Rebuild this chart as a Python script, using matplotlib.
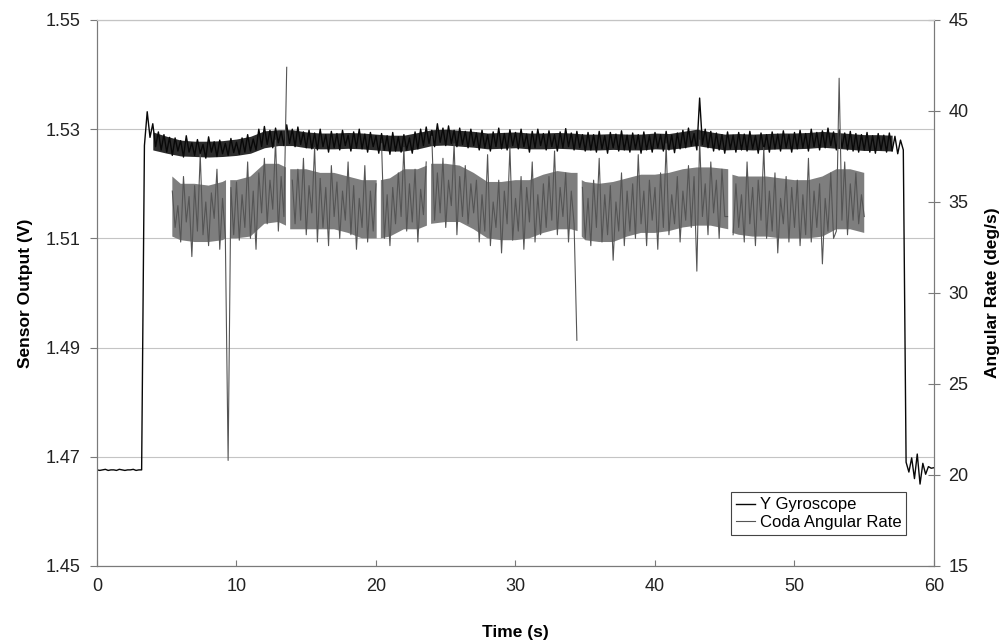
import numpy as np
import matplotlib
matplotlib.use("Agg")
import matplotlib.pyplot as plt

# Y gyroscope output (V), sampled every 0.2 s from t = 0 to 60 s
gyro_v = [
    # 0.0 - 3.2 s, before the turntable starts
    1.4676, 1.4675, 1.4676, 1.4677, 1.4675, 1.4676, 1.4676, 1.4675, 1.4677,
    1.4676, 1.4675, 1.4676, 1.4676, 1.4677, 1.4675, 1.4676, 1.4676,
    # 3.4 - 5.2
    1.5270, 1.5332, 1.5285, 1.5310, 1.5268, 1.5295, 1.5262, 1.5290, 1.5258, 1.5285,
    # 5.4 - 10.0
    1.5252, 1.5284, 1.5260, 1.5279, 1.5249, 1.5288, 1.5258, 1.5275, 1.5252, 1.5281,
    1.5256, 1.5272, 1.5247, 1.5286, 1.5258, 1.5277, 1.5250, 1.5280, 1.5255, 1.5274,
    1.5252, 1.5283, 1.5257, 1.5276,
    # 10.2 - 11.4
    1.5254, 1.5284, 1.5258, 1.5290, 1.5260, 1.5282, 1.5262,
    # 11.6 - 15.0
    1.5300, 1.5268, 1.5305, 1.5272, 1.5298, 1.5266, 1.5302, 1.5275, 1.5296, 1.5270,
    1.5308, 1.5274, 1.5300, 1.5268, 1.5304, 1.5272, 1.5295, 1.5266,
    # 15.2 - 20.0
    1.5298, 1.5264, 1.5293, 1.5262, 1.5300, 1.5268, 1.5290, 1.5258, 1.5296, 1.5266,
    1.5292, 1.5262, 1.5298, 1.5270, 1.5289, 1.5260, 1.5295, 1.5266, 1.5300, 1.5264,
    1.5291, 1.5258, 1.5294, 1.5268, 1.5288,
    # 20.2 - 23.0
    1.5256, 1.5292, 1.5262, 1.5288, 1.5254, 1.5294, 1.5260, 1.5286, 1.5258, 1.5290,
    1.5262, 1.5284, 1.5256, 1.5295, 1.5264,
    # 23.2 - 27.0
    1.5300, 1.5270, 1.5304, 1.5274, 1.5298, 1.5268, 1.5310, 1.5276, 1.5302, 1.5270,
    1.5306, 1.5274, 1.5298, 1.5268, 1.5302, 1.5272, 1.5296, 1.5266, 1.5300, 1.5270,
    # 27.2 - 35.0
    1.5293, 1.5262, 1.5298, 1.5266, 1.5290, 1.5260, 1.5295, 1.5268, 1.5302, 1.5264,
    1.5292, 1.5262, 1.5299, 1.5270, 1.5294, 1.5264, 1.5300, 1.5268, 1.5291, 1.5258,
    1.5296, 1.5266, 1.5300, 1.5270, 1.5292, 1.5262, 1.5297, 1.5268, 1.5290, 1.5260,
    1.5295, 1.5266, 1.5301, 1.5268, 1.5293, 1.5262, 1.5296, 1.5266, 1.5290, 1.5260,
    # 35.2 - 42.0
    1.5294, 1.5262, 1.5290, 1.5258, 1.5296, 1.5264, 1.5288, 1.5256, 1.5294, 1.5266,
    1.5291, 1.5260, 1.5297, 1.5262, 1.5289, 1.5258, 1.5293, 1.5264, 1.5290, 1.5256,
    1.5295, 1.5262, 1.5288, 1.5258, 1.5294, 1.5266, 1.5290, 1.5260, 1.5296, 1.5262,
    1.5289, 1.5257, 1.5293, 1.5264, 1.5298,
    # 42.2 - 44.0
    1.5266, 1.5302, 1.5270, 1.5292, 1.5262, 1.5357, 1.5272, 1.5300, 1.5266, 1.5296,
    # 44.2 - 50.0
    1.5260, 1.5293, 1.5262, 1.5290, 1.5256, 1.5295, 1.5264, 1.5289, 1.5258, 1.5294,
    1.5262, 1.5291, 1.5260, 1.5296, 1.5264, 1.5288, 1.5256, 1.5293, 1.5262, 1.5290,
    1.5258, 1.5295, 1.5264, 1.5291, 1.5260, 1.5297, 1.5266, 1.5290, 1.5258, 1.5294,
    # 50.2 - 54.0
    1.5264, 1.5298, 1.5266, 1.5292, 1.5260, 1.5300, 1.5268, 1.5294, 1.5262, 1.5297,
    1.5266, 1.5302, 1.5270, 1.5295, 1.5262, 1.5299, 1.5266, 1.5293, 1.5262, 1.5296,
    # 54.2 - 57.8
    1.5260, 1.5292, 1.5258, 1.5290, 1.5262, 1.5294, 1.5258, 1.5288, 1.5256, 1.5292,
    1.5262, 1.5289, 1.5258, 1.5293, 1.5260, 1.5287, 1.5255, 1.5280, 1.5262,
    # 58.0 - 60.0, after the turntable stops
    1.4690, 1.4672, 1.4698, 1.4660, 1.4705, 1.4650, 1.4688, 1.4668, 1.4682, 1.4679,
    1.4680,
]
gyro_start, gyro_step = 0.0, 0.2

# dense part of the gyro trace, read per second (t = 4 ... 57 s)
gyro_band_t = list(range(4, 58))
gyro_band_lo = [
    1.5262, 1.5256, 1.5251, 1.5250, 1.5249, 1.5250, 1.5252, 1.5256, 1.5266, 1.5270,
    1.5270, 1.5266, 1.5264, 1.5264, 1.5265, 1.5264, 1.5262, 1.5260, 1.5260, 1.5264,
    1.5270, 1.5271, 1.5269, 1.5267, 1.5264, 1.5265, 1.5266, 1.5264, 1.5264, 1.5265,
    1.5264, 1.5262, 1.5262, 1.5263, 1.5262, 1.5262, 1.5264, 1.5263, 1.5266, 1.5270,
    1.5266, 1.5262, 1.5263, 1.5262, 1.5263, 1.5264, 1.5264, 1.5265, 1.5267, 1.5265,
    1.5263, 1.5261, 1.5261, 1.5260,
]
gyro_band_hi = [
    1.5295, 1.5287, 1.5280, 1.5278, 1.5278, 1.5279, 1.5282, 1.5287, 1.5297, 1.5299,
    1.5299, 1.5295, 1.5293, 1.5293, 1.5294, 1.5293, 1.5291, 1.5289, 1.5289, 1.5294,
    1.5299, 1.5300, 1.5298, 1.5296, 1.5293, 1.5294, 1.5295, 1.5293, 1.5293, 1.5294,
    1.5293, 1.5291, 1.5291, 1.5292, 1.5291, 1.5291, 1.5293, 1.5292, 1.5296, 1.5300,
    1.5295, 1.5291, 1.5292, 1.5291, 1.5292, 1.5293, 1.5293, 1.5294, 1.5296, 1.5294,
    1.5292, 1.5290, 1.5290, 1.5289,
]

# Coda angular rate (deg/s), every 0.2 s from t = 5.4 to 55.0 s (nan = dropout)
coda_rate = [
    # 5.4 - 9.2
    35.6, 33.6, 34.8, 32.8, 36.4, 33.9, 35.3, 32.0, 35.9, 33.4,
    37.6, 33.2, 35.0, 32.6, 35.5, 34.1, 36.8, 32.4, 35.2, 33.1,
    # 9.4
    20.8,
    # 9.6 - 11.4
    35.8, 33.2, 36.1, 32.9, 35.4, 33.6, 37.2, 33.0, 35.6, 32.4,
    # 11.6 - 13.4
    36.6, 34.4, 37.4, 33.8, 36.2, 34.6, 38.4, 33.4, 36.4, 34.2,
    # 13.6
    42.4,
    # 13.8 - 18.0
    np.nan, 36.2, 33.8, 36.8, 34.0, 37.4, 33.2, 35.9, 34.4, 38.0, 32.8,
    36.3, 33.6, 35.8, 32.6, 37.0, 34.2, 36.1, 33.0, 35.6, 34.0, 37.2,
    # 18.2 - 20.0
    33.2, 35.9, 32.4, 35.2, 33.6, 37.0, 32.8, 35.6, 33.4, 36.0,
    # 20.2
    np.nan,
    # 20.4 - 21.2
    38.2, 33.0, 35.4, 32.6, 35.8,
    # 21.4 - 23.6
    33.8, 36.6, 34.2, 38.0, 33.4, 36.0, 33.9, 36.8, 32.8, 35.7, 34.3, 37.2,
    # 23.8
    np.nan,
    # 24.0 - 27.0
    38.6, 34.0, 36.6, 34.4, 37.4, 33.6, 36.2, 34.8, 38.2, 33.2,
    36.4, 34.2, 37.0, 33.8, 36.0, 34.4,
    # 27.2 - 32.0
    36.2, 32.8, 35.4, 33.4, 37.6, 32.6, 35.0, 33.6, 36.2, 32.2,
    35.6, 33.8, 38.0, 32.9, 35.2, 33.4, 36.4, 32.4, 35.8, 33.9,
    37.2, 32.8, 35.4, 33.2, 36.0,
    # 32.2 - 34.2
    33.6, 36.4, 34.0, 37.8, 33.2, 35.8, 34.2, 36.6, 32.8, 35.6, 33.8,
    # 34.4 - 34.6
    27.4, np.nan,
    # 34.8 - 38.0
    35.8, 33.0, 35.2, 32.6, 36.2, 33.6, 37.4, 32.8, 35.4, 33.2,
    35.9, 31.8, 35.0, 33.4, 36.6, 32.6, 35.6,
    # 38.2 - 42.0
    33.4, 36.0, 33.0, 37.6, 33.8, 35.6, 32.6, 36.2, 34.0, 35.8,
    32.4, 36.6, 33.6, 38.2, 33.2, 35.4, 33.8, 36.4, 32.8, 35.6,
    # 42.2 - 45.2
    34.0, 37.0, 33.6, 36.4, 31.2, 38.4, 34.2, 36.0, 33.2, 37.2,
    34.4, 36.2, 33.0, 36.8, 34.2, 34.2,
    # 45.4
    np.nan,
    # 45.6 - 50.0
    33.2, 36.0, 33.6, 35.4, 32.8, 37.2, 33.8, 35.8, 32.6, 36.2,
    34.0, 38.0, 33.0, 35.6, 33.4, 36.6, 32.2, 35.2, 33.8, 36.4,
    32.8, 35.8, 33.6,
    # 50.2 - 53.0
    36.2, 32.6, 35.4, 33.2, 37.4, 32.8, 35.6, 33.6, 36.0, 31.6,
    35.2, 33.4, 36.6, 33.0, 33.4,
    # 53.2
    41.8,
    # 53.4 - 55.0
    34.0, 37.2, 33.2, 36.0, 34.0, 36.6, 33.8, 35.4, 34.2,
]
coda_start, coda_step = 5.4, 0.2

# dense part of the Coda trace (deg/s); nan marks the short dropouts
coda_band_t = [5.4, 6, 7, 8, 9, 9.25, 9.4, 9.55, 10, 11, 12, 13, 13.55, 13.7, 13.85,
               14, 15, 16, 17, 18, 19, 20.05, 20.2, 20.35, 21, 22, 23, 23.65, 23.8,
               23.95, 25, 26, 27, 28, 29, 30, 31, 32, 33, 34, 34.45, 34.6, 34.75,
               35, 36, 37, 38, 39, 40, 41, 42, 43, 44, 45.25, 45.4, 45.55, 46, 47,
               48, 49, 50, 51, 52, 53, 54, 55]
coda_band_lo = [33.1, 32.9, 32.8, 32.8, 32.9, 33.0, np.nan, 33.0, 33.0, 33.1, 33.8,
                33.9, 33.7, np.nan, 33.5, 33.5, 33.5, 33.5, 33.5, 33.3, 33.0, 33.0,
                np.nan, 33.0, 33.1, 33.5, 33.5, 33.7, np.nan, 33.8, 33.9, 33.9, 33.5,
                33.0, 32.9, 32.9, 33.0, 33.3, 33.5, 33.5, 33.4, np.nan, 33.1, 32.9,
                32.8, 32.8, 33.1, 33.3, 33.3, 33.4, 33.6, 33.7, 33.7, 33.5, np.nan,
                33.3, 33.2, 33.1, 33.1, 33.0, 33.0, 33.0, 33.1, 33.5, 33.5, 33.3]
coda_band_hi = [36.4, 36.0, 36.0, 35.9, 36.1, 36.2, np.nan, 36.2, 36.2, 36.4, 37.1,
                37.1, 36.9, np.nan, 36.8, 36.8, 36.8, 36.6, 36.6, 36.4, 36.2, 36.2,
                np.nan, 36.2, 36.3, 36.8, 36.8, 37.0, np.nan, 37.1, 37.1, 37.0, 36.6,
                36.1, 36.1, 36.2, 36.2, 36.5, 36.7, 36.6, 36.6, np.nan, 36.2, 36.1,
                36.0, 36.1, 36.3, 36.5, 36.5, 36.6, 36.8, 36.9, 36.9, 36.8, np.nan,
                36.5, 36.4, 36.4, 36.4, 36.3, 36.2, 36.2, 36.4, 36.8, 36.8, 36.6]

left_ticks = [1.45, 1.47, 1.49, 1.51, 1.53, 1.55]
right_ticks = [15, 20, 25, 30, 35, 40, 45]
time_ticks = [0, 10, 20, 30, 40, 50, 60]

gyro_t = gyro_start + gyro_step * np.arange(len(gyro_v))
coda_t = coda_start + coda_step * np.arange(len(coda_rate))

plt.rcParams["font.family"] = ["Liberation Sans", "DejaVu Sans"]

fig = plt.figure(figsize=(10.03, 6.43), dpi=100)
ax = fig.add_axes([0.0967, 0.1198, 0.8345, 0.8491])
ax2 = ax.twinx()

gyro_col = "#080808"
coda_col = "#555555"

# dense noise bands drawn lighter underneath, the traces on top
ax.fill_between(gyro_band_t, gyro_band_lo, gyro_band_hi, color="#2c2c2c", lw=0)
ax.plot(gyro_t, gyro_v, color=gyro_col, lw=1.0, label="Y Gyroscope")
ax2.fill_between(coda_band_t, coda_band_lo, coda_band_hi, color="#7e7e7e", lw=0)
ax2.plot(coda_t, coda_rate, color=coda_col, lw=0.8, label="Coda Angular Rate")

ax.set_xlim(0, 60)
ax.set_ylim(1.45, 1.55)
ax2.set_ylim(15, 45)
ax.set_xticks(time_ticks)
ax.set_yticks(left_ticks)
ax.set_yticklabels(["%.2f" % v for v in left_ticks])
ax2.set_yticks(right_ticks)

ax.grid(axis="y", color="#c4c4c4", lw=0.8)
ax.set_axisbelow(True)

for a in (ax, ax2):
    for s in a.spines.values():
        s.set_color("#7a7a7a")
        s.set_linewidth(0.8)
    a.spines["top"].set_color("#c4c4c4")

ax.tick_params(axis="y", direction="out", length=5, width=0.8, color="#7a7a7a",
               labelsize=13, pad=7, labelcolor="#222222")
ax.tick_params(axis="x", direction="in", length=4, width=0.8, color="#7a7a7a",
               labelsize=13, pad=9, labelcolor="#222222")
ax2.tick_params(axis="y", direction="inout", length=9, width=0.8, color="#7a7a7a",
                labelsize=13, pad=6, labelcolor="#222222")

ax.set_xlabel("Time (s)", fontsize=12.5, fontweight="bold", labelpad=21)
ax.set_ylabel("Sensor Output (V)", fontsize=12.5, fontweight="bold", labelpad=9)
ax2.set_ylabel("Angular Rate (deg/s)", fontsize=12.5, fontweight="bold", labelpad=12)

h1, l1 = ax.get_legend_handles_labels()
h2, l2 = ax2.get_legend_handles_labels()
leg = ax2.legend(h1 + h2, l1 + l2, loc="lower right", bbox_to_anchor=(0.967, 0.057),
                 borderaxespad=0, fontsize=12, handlelength=1.1, handletextpad=0.3,
                 labelspacing=0.15, borderpad=0.3, fancybox=False, framealpha=1)
leg.get_frame().set_edgecolor("#444444")
leg.get_frame().set_linewidth(0.8)

fig.savefig("out.png", dpi=100)
